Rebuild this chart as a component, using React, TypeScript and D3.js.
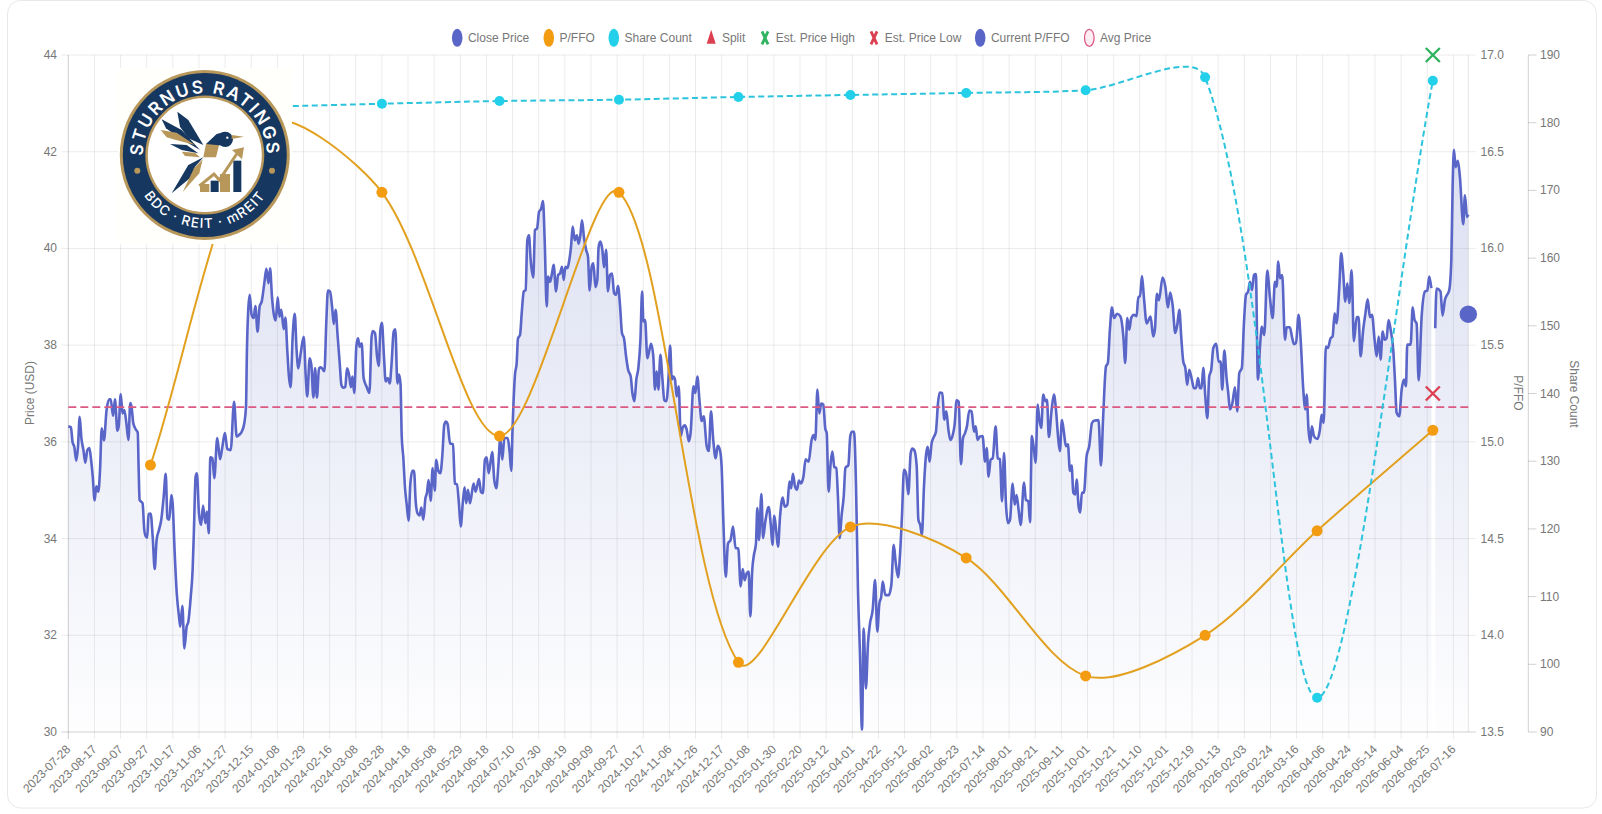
import { path as d3path, area, line, curveMonotoneX, scaleLinear, range } from "d3";

const totalWidth = 1602;
const totalHeight = 814;
const plotLeft = 68.3;
const plotRight = 1468.3;
const plotTop = 55;
const plotBottom = 732;
const font = "'Liberation Sans', Arial, sans-serif";

const tickDates = [
  "2023-07-28", "2023-08-17", "2023-09-07", "2023-09-27", "2023-10-17", "2023-11-06", "2023-11-27", "2023-12-15",
  "2024-01-08", "2024-01-29", "2024-02-16", "2024-03-08", "2024-03-28", "2024-04-18", "2024-05-08", "2024-05-29",
  "2024-06-18", "2024-07-10", "2024-07-30", "2024-08-19", "2024-09-09", "2024-09-27", "2024-10-17", "2024-11-06",
  "2024-11-26", "2024-12-17", "2025-01-08", "2025-01-30", "2025-02-20", "2025-03-12", "2025-04-01", "2025-04-22",
  "2025-05-12", "2025-06-02", "2025-06-23", "2025-07-14", "2025-08-01", "2025-08-21", "2025-09-11", "2025-10-01",
  "2025-10-21", "2025-11-10", "2025-12-01", "2025-12-19", "2026-01-13", "2026-02-03", "2026-02-24", "2026-03-16",
  "2026-04-06", "2026-04-24", "2026-05-14", "2026-06-04", "2026-06-25", "2026-07-16",
];
const tradingDaysPerTick = 14;
const lastIndex = 750;

const priceTicks = [30, 32, 34, 36, 38, 40, 42, 44];
const pffoTicks = [13.5, 14, 14.5, 15, 15.5, 16, 16.5, 17];
const shareTicks = [90, 100, 110, 120, 130, 140, 150, 160, 170, 180, 190];

// [trading day index, close]
const closeBeforeGap: [number, number][] = [
  [0, 36.32], [1.4, 36.3], [2.3, 35.99], [3.2, 35.9], [4.3, 35.61], [5.2, 35.9], [6.1, 36.52], [7, 36.08], [8.1, 35.83], [9.1, 35.57],
  [10.2, 35.83], [11.3, 35.87], [12.2, 35.63], [13.1, 35.28], [14.1, 34.79], [15, 35.08], [16.1, 34.97], [17, 35.42], [17.9, 36.28], [19.1, 36.03],
  [20.5, 36.66], [22, 36.88], [22.7, 36.88], [24, 36.54], [25, 36.88], [26.3, 36.23], [27, 36.32], [28.1, 36.99], [29, 36.59], [30, 36.66],
  [31.1, 36.39], [32.2, 36.04], [33.2, 36.8], [33.9, 36.72], [34.8, 36.39], [36.1, 36.26], [37.2, 36.19], [37.7, 35.42], [38.2, 34.8], [39.8, 34.73],
  [40.7, 34.18], [41.6, 34.04], [42.3, 34.02], [43, 34.51], [44.1, 34.52], [45.2, 34.04], [46.3, 33.37], [47.3, 33.97], [48.6, 34.18], [49.8, 34.39],
  [51.1, 34.87], [52.2, 35.34], [53.1, 34.42], [54.1, 34.39], [55.2, 34.9], [55.9, 34.73], [57, 33.7], [58.1, 32.87], [59.3, 32.39], [60, 32.18],
  [61.1, 32.61], [62.2, 31.73], [63.4, 32.18], [64.3, 32.28], [65.6, 32.8], [66.6, 33.35], [67.3, 34.18], [68.2, 35.28], [68.9, 35.35], [70, 34.52],
  [71.1, 34.28], [72.2, 34.68], [73.4, 34.32], [74.3, 34.56], [75.2, 34.11], [76.1, 35.68], [77.2, 35.66], [78.2, 35.25], [79.8, 36.08], [81.3, 35.64],
  [82.5, 35.89], [83.9, 36.18], [85.2, 35.85], [87, 35.83], [88.8, 36.83], [90.2, 36.11], [91.4, 36.14], [92.9, 36.21], [94.3, 36.39], [95.2, 36.73],
  [95.7, 37.9], [96.4, 38.73], [97.2, 39.04], [98.2, 38.63], [99.3, 38.56], [100.2, 38.81], [101.4, 38.28], [102.5, 38.8], [103.6, 38.9], [105, 39.28],
  [106.1, 39.58], [107.2, 39.28], [108.1, 39.59], [109.1, 39.01], [110, 38.66], [111.1, 38.51], [112.2, 38.99], [113.1, 38.59], [114.1, 38.73], [115.4, 38.33],
  [116.3, 38.57], [117.3, 37.9], [118.2, 37.35], [119.1, 37.13], [120.2, 38.18], [121.3, 38.65], [122.3, 37.9], [123.2, 37.52], [124.5, 37.83], [126.1, 38.17],
  [127.2, 37.35], [128, 36.94], [129.3, 37.73], [130.2, 37.59], [131.3, 36.92], [132.2, 37.52], [133.2, 36.92], [134.3, 37.52], [135.4, 37.54], [137.2, 37.46],
  [138.2, 38.46], [139.1, 39.13], [140.2, 39.11], [141.3, 38.8], [142.2, 38.44], [143.2, 38.73], [144.3, 38.18], [145.4, 37.63], [146.3, 37.18], [147.3, 37.12],
  [148.4, 37.14], [149.3, 37.52], [150.4, 37.39], [151.4, 37.13], [152.2, 37.35], [153.2, 37.01], [154.3, 37.97], [155.2, 38.14], [156.1, 37.97], [157.2, 38.04],
  [158.2, 37.32], [159.8, 37.14], [161.3, 37.01], [162.5, 38.18], [163.2, 38.29], [164.3, 38.25], [165.4, 37.77], [166.3, 37.57], [167.2, 38.32], [168, 38.46],
  [169.1, 37.77], [170, 37.25], [171.1, 37.32], [172.2, 37.21], [173.2, 37.63], [174.3, 38.28], [175.2, 38.33], [176.3, 37.21], [177.2, 37.39], [178, 37.18],
  [178.6, 36.14], [179.5, 35.66], [180.4, 35.04], [181.3, 34.7], [182.3, 34.37], [183.2, 35.11], [184.3, 35.4], [185.2, 35.4], [186.1, 34.77], [187.1, 34.52],
  [188.2, 34.48], [189.1, 34.64], [190.2, 34.39], [191.3, 34.83], [192.1, 34.94], [193, 35.21], [194.1, 34.78], [195.2, 35.46], [196.3, 34.99], [197.1, 35.63],
  [198.2, 35.4], [199.3, 35.35], [200.4, 35.73], [201.4, 36.35], [202.3, 36.42], [203.2, 36.37], [204.5, 35.97], [206.1, 35.95], [207.1, 35.14], [208.2, 35.12],
  [209.3, 34.7], [210.2, 34.25], [211.4, 34.77], [212.3, 35.06], [213.2, 34.73], [214.1, 35.01], [215.2, 34.73], [217.1, 35.14], [218.2, 34.97], [220, 35.23],
  [221.1, 34.96], [222.1, 34.94], [223.2, 35.63], [224.1, 35.68], [225.2, 35.35], [227.1, 35.79], [228.2, 35.21], [229.3, 35.04], [230.4, 35.52], [231.4, 36.08],
  [232.5, 35.63], [233.6, 36.08], [235.4, 36.08], [236.4, 35.8], [237.3, 35.4], [238, 36.28], [239.3, 37.39], [240.2, 37.63], [240.9, 38.14], [242, 38.21],
  [242.9, 38.66], [244, 39.11], [245, 39.14], [245.9, 40.17], [246.8, 40.27], [247.7, 39.76], [249.1, 39.4], [250, 40.38], [251.1, 40.41], [252.2, 40.76],
  [253.3, 40.82], [254.3, 40.98], [255.2, 40.17], [256.3, 38.8], [257, 39.42], [258.1, 39.31], [259.1, 39.48], [260, 39.66], [261.3, 39.11], [262.4, 39.45],
  [263.4, 39.48], [264.5, 39.62], [265.4, 39.35], [266.3, 39.62], [267.4, 39.59], [268.4, 39.76], [269.3, 40.03], [270.2, 40.45], [271.3, 40.17], [272.4, 40.27],
  [273.4, 40.1], [274.3, 40.27], [275.2, 40.58], [276.3, 40.21], [277.4, 39.97], [278.4, 39.83], [279.3, 39.13], [280.4, 39.62], [281.3, 39.69], [282.4, 39.2],
  [283.4, 39.35], [284.1, 40.03], [285, 40.14], [286.1, 39.97], [287, 39.61], [288.1, 39.97], [289.1, 39.11], [290.2, 39.45], [291.3, 39.48], [292.4, 39.07],
  [293.4, 39.04], [294.5, 39.22], [295.6, 38.8], [296.6, 38.25], [297.7, 38.14], [298.8, 37.77], [299.9, 37.49], [301.3, 37.35], [302.2, 37.01], [303.3, 36.84],
  [304.3, 37.29], [305.4, 37.53], [306.5, 38.11], [307.4, 39.11], [308.1, 38.49], [309, 38.52], [310.2, 37.73], [311.3, 37.9], [312.2, 38.03], [313.4, 37.77],
  [314.3, 37.08], [315.2, 37.46], [316.1, 37.08], [317.2, 37.8], [318.3, 37.29], [319.3, 36.86], [320.4, 36.84], [321.5, 37.29], [322.4, 37.99], [323.3, 37.29],
  [324.1, 37.35], [325, 37.29], [325.9, 36.94], [327, 37.15], [328.1, 36.12], [329.1, 36.29], [330.2, 36.34], [331.3, 36.25], [332.4, 36.01], [333.4, 36.19],
  [334.9, 37.15], [335.9, 37.01], [337, 37.35], [338.1, 36.87], [339.3, 36.43], [340.4, 36.53], [342, 35.91], [343.1, 35.81], [344.3, 36.63], [345.5, 36.04],
  [346.8, 35.66], [347.9, 35.92], [349.1, 35.83], [350, 35.49], [350.9, 34.39], [352.2, 33.21], [353.4, 33.9], [354.8, 33.97], [356.1, 34.25], [357.5, 33.8],
  [358.9, 33.8], [360.2, 33.01], [361.3, 33.37], [362.3, 33.14], [363.4, 33.28], [364.5, 33.32], [365.4, 32.39], [366.4, 33.35], [367.3, 33.66], [368.4, 33.9],
  [369.1, 34.63], [370, 33.97], [371.3, 34.92], [372.2, 34.01], [373.4, 34.35], [375.2, 34.65], [376.4, 34.25], [377.2, 33.87], [378.2, 34.47], [379.1, 34.21],
  [380.2, 33.83], [381.3, 34.46], [382.7, 34.85], [383.8, 34.66], [385.2, 34.7], [386.3, 35.18], [387.2, 35.04], [388.2, 35.34], [389.3, 35.08], [390.4, 35.01],
  [391.4, 35.2], [392.5, 35.14], [393.8, 35.28], [395, 35.64], [396.6, 35.59], [398.2, 36.04], [399.3, 36.14], [400.2, 36.04], [401.3, 37.08], [402.3, 36.59],
  [403.4, 36.79], [404.5, 36.77], [405.5, 36.28], [406.3, 36.18], [407.3, 34.97], [408.4, 35.56], [409.3, 35.8], [410.4, 35.48], [411.4, 35.46], [412.3, 34.87],
  [413.2, 34.01], [414.3, 34.49], [415.4, 34.87], [416.3, 35.46], [417.9, 35.52], [418.9, 36.11], [419.8, 36.21], [420.9, 36.21], [422, 35.08], [423, 33.01],
  [424.1, 31.63], [425.2, 30.05], [426.1, 32.14], [427.3, 30.9], [428.4, 31.83], [429.5, 32.25], [430.9, 32.52], [432.2, 33.14], [433.4, 32.08], [434.5, 32.66],
  [435.5, 32.8], [436.3, 33.11], [437.7, 32.83], [439.5, 32.83], [440.9, 33.04], [442.2, 33.87], [443.2, 33.52], [444.5, 33.2], [445.5, 33.63], [446.6, 34.46],
  [447.7, 35.42], [448.8, 35.35], [450, 34.92], [451.3, 35.77], [452.2, 35.86], [453.2, 35.83], [454.5, 35.49], [455.4, 34.39], [456.4, 34.28], [457.3, 34.08],
  [458.4, 35.08], [459.5, 35.73], [460.4, 35.9], [461.4, 35.59], [462.5, 35.97], [463.8, 36.11], [464.8, 36.21], [465.9, 36.8], [466.8, 37.02], [468.2, 37.01],
  [469.3, 36.46], [470.4, 36.63], [471.4, 36.28], [472.5, 36.04], [473.8, 36.14], [474.8, 36.35], [475.9, 36.86], [477, 36.83], [478.2, 35.54], [479.3, 36.08],
  [480.4, 36.18], [481.4, 36.32], [482.7, 36.65], [483.9, 36.63], [485.2, 36.21], [486.1, 36.32], [487.1, 36.04], [488.4, 36.11], [489.8, 36.12], [491.1, 35.59],
  [492, 35.87], [493, 35.28], [494.1, 35.63], [495.2, 35.66], [496.8, 36.32], [497.9, 35.66], [499.1, 35.64], [500.2, 34.77], [501.3, 35.77], [502.3, 34.73],
  [503.4, 34.32], [504.5, 34.39], [505.9, 35.14], [507, 34.7], [508, 34.9], [509.1, 34.59], [510.2, 34.28], [512, 35.16], [513, 34.8], [514.3, 34.77],
  [515.2, 34.34], [516.2, 36.12], [517.3, 35.84], [518.2, 35.57], [519.3, 36.77], [520.2, 36.46], [521.2, 36.29], [522.3, 36.98], [523.4, 36.84], [524.3, 36.87],
  [525.3, 36.1], [526.8, 36.67], [528, 36.98], [529.1, 36.67], [530.2, 36.12], [531.2, 35.81], [532.3, 36.45], [533.4, 36.19], [534.4, 35.91], [535.5, 35.95],
  [536.6, 35.4], [537.5, 35.51], [538.4, 34.95], [539.4, 34.91], [540.2, 35.22], [541.2, 34.67], [542.1, 34.54], [543, 34.95], [544.1, 34.95], [545.5, 35.7],
  [546.9, 35.91], [548.4, 36.39], [549.8, 36.44], [551.9, 36.45], [553.2, 35.51], [554.4, 36.53], [555.9, 37.56], [556.9, 37.63], [558, 38.32], [559.1, 38.78],
  [560.2, 38.56], [561.9, 38.65], [563.7, 38.59], [565.2, 38.18], [566.2, 37.63], [567.3, 38.56], [568.4, 38.32], [569.4, 38.56], [570.9, 38.63], [572.3, 38.6],
  [573.2, 39], [574.1, 39], [575.2, 39.43], [576.2, 39], [577.7, 38.45], [579.8, 38.59], [581.2, 38.18], [582.1, 38.32], [583.2, 39.06], [584.3, 38.93],
  [586.2, 39.4], [587.7, 39.21], [589.1, 38.78], [590.3, 39.09], [591.6, 38.83], [593, 38.25], [594.1, 38.42], [595.2, 38.73], [596.2, 38.18], [597.3, 37.66],
  [598.4, 37.53], [599.4, 37.18], [600.5, 37.49], [601.9, 37.29], [603, 37.11], [604.1, 37.11], [605.2, 37.32], [606.2, 37.11], [607.1, 37.11], [608, 37.53],
  [609.1, 36.94], [610.2, 36.49], [611.2, 37.35], [612.3, 37.49], [613.4, 37.94], [615, 38.03], [616.2, 37.66], [617.3, 37.66], [618.2, 37.08], [619.3, 37.89],
  [620.5, 37.32], [621.4, 37.01], [622.3, 36.67], [623.6, 36.8], [625, 37.13], [626.2, 36.63], [627.3, 37.42], [628.7, 37.53], [629.8, 38.45], [630.9, 39.04],
  [632.1, 39.11], [633, 39.31], [634.1, 39.14], [635.2, 39.45], [636.2, 39.47], [637.3, 37.29], [638.4, 37.97], [639.4, 38.38], [640.7, 38.21], [642.3, 39.54],
  [643.7, 39], [645.2, 38.56], [646.4, 39.31], [647.3, 39.21], [648.2, 39.73], [649.1, 39.38], [650.3, 39.45], [651.8, 38.11], [652.7, 38.37], [654.4, 38.37],
  [655.5, 38.18], [656.6, 38.02], [657.7, 38.05], [659.1, 38.63], [660.2, 38.11], [661.6, 37.08], [662.7, 36.67], [663.4, 36.98], [664.4, 36.25], [665.3, 35.98],
  [666.2, 36.32], [667.3, 36.12], [669.1, 36.06], [670.5, 36.25], [671.4, 36.56], [672.5, 36.39], [673.7, 37.97], [674.8, 37.94], [676.2, 38.14], [677.3, 38.18],
  [678.4, 38.66], [679.4, 38.45], [680.9, 39.21], [681.9, 39.9], [683, 39.48], [684.1, 38.9], [685.2, 39.28], [686.2, 38.87], [687.5, 39.55], [688.7, 38.08],
  [690.2, 38.58], [691.2, 38.58], [692.3, 37.77], [693.7, 38.32], [694.8, 38.63], [696.1, 38.95], [697.3, 38.58], [698.4, 38.63], [699.8, 38.11], [700.9, 37.77],
  [702, 38.18], [703, 37.7], [704.1, 38.28], [705.2, 38.11], [706.2, 38.14], [707.3, 38.52], [708.4, 38.32], [709.8, 37.9], [710.7, 37.29], [711.6, 36.6],
  [713, 36.53], [714.3, 37.08], [715.5, 37.29], [716.6, 37.15], [717.3, 38.01], [719.1, 38.01], [720.2, 38.78], [721.2, 38.52], [722.3, 38.45], [723.4, 37.27],
  [725, 38.59], [726.8, 39.11], [728, 39.13], [729.1, 39.42], [730.2, 39.18],
];
const closeAfterGap: [number, number][] = [
  [732.3, 38.35], [733, 39.17], [735.1, 39.11], [736.2, 38.61], [737.5, 38.94], [739.8, 39.14], [740.9, 39.76], [741.6, 41.27],
  [742.3, 42.04], [743.2, 41.68], [744.4, 41.81], [745.5, 41.48], [747.3, 40.5], [748.2, 41.1], [749.3, 40.65], [750, 40.7],
];

// quarterly points, the second one sits behind the logo
const pffoIndex = [44, 106, 168, 231, 295, 359, 419, 481, 545, 609, 669, 731];
const pffoValues = [14.88, 16.64, 16.29, 15.03, 16.29, 13.86, 14.56, 14.4, 13.79, 14.0, 14.54, 15.06];
const shareValues = [181.9, 182.35, 182.8, 183.2, 183.4, 183.8, 184.1, 184.4, 184.8, 186.7, 95.05, 186.2];

const avgPrice = 36.72;
const estPriceHigh = 44;
const estPriceLow = 37;
const estIndex = 731;
const currentPffo = 15.66;

const legendLabels = ["Close Price", "P/FFO", "Share Count", "Split", "Est. Price High", "Est. Price Low", "Current P/FFO", "Avg Price"];
const legendMarkers = ["blue", "orange", "cyan", "triangle", "xgreen", "xred", "blue", "avg"];
const legendX = [457.2, 548.8, 613.8, 711.2, 765, 874, 980.2, 1089.3];

const blue = "#5a65c8";
const orangeLine = "#e2a01f";
const orange = "#f39c12";
const cyan = "#22d0ea";
const cyanLine = "#2cc4dc";
const green = "#2fb35f";
const red = "#dc3f50";
const avgColor = "#dc5a82";
const navy = "#16375f";
const gold = "#b8975a";

// same bezier control points Chart.js makes, tension
function splinePath(points: [number, number][]) {
  const t = 0.3;
  const p = d3path();
  const ctrl = points.map((cur, i) => {
    const prev = points[Math.max(i - 1, 0)];
    const next = points[Math.min(i + 1, points.length - 1)];
    const d01 = Math.hypot(cur[0] - prev[0], cur[1] - prev[1]);
    const d12 = Math.hypot(next[0] - cur[0], next[1] - cur[1]);
    const total = d01 + d12 || 1;
    const fa = (t * d01) / total;
    const fb = (t * d12) / total;
    return {
      before: [cur[0] - fa * (next[0] - prev[0]), cur[1] - fa * (next[1] - prev[1])],
      after: [cur[0] + fb * (next[0] - prev[0]), cur[1] + fb * (next[1] - prev[1])],
    };
  });
  points.forEach((pt, i) => {
    if (i === 0) {
      p.moveTo(pt[0], pt[1]);
    } else {
      p.bezierCurveTo(ctrl[i - 1].after[0], ctrl[i - 1].after[1], ctrl[i].before[0], ctrl[i].before[1], pt[0], pt[1]);
    }
  });
  return p.toString();
}

const Cross = ({ x, y, rx, ry, color, w }: { x: number; y: number; rx: number; ry: number; color: string; w: number }) => (
  <path d={`M${x - rx},${y - ry}L${x + rx},${y + ry}M${x - rx},${y + ry}L${x + rx},${y - ry}`} stroke={color} strokeWidth={w} fill="none" />
);

const Logo = () => {
  const cx = 204.8;
  const cy = 155;
  const topR = 62;
  const botR = 73;
  const a = (12 * Math.PI) / 180;
  const topDx = topR * Math.cos(a);
  const topDy = topR * Math.sin(a);
  const botDx = botR * Math.cos(a);
  const botDy = botR * Math.sin(a);
  return (
    <g>
      <rect x={118} y={68} width={174} height={176} fill="#fffffc" />
      <circle cx={cx} cy={cy} r={85} fill={gold} />
      <circle cx={cx} cy={cy} r={82} fill={navy} />
      <circle cx={cx} cy={cy} r={59.5} fill={gold} />
      <circle cx={cx} cy={cy} r={57} fill="#ffffff" />
      <circle cx={137.3} cy={170.7} r={3} fill={gold} />
      <circle cx={272} cy={170.7} r={3} fill={gold} />
      <defs>
        <path id="logoTop" d={`M${cx - topDx},${cy + topDy} A${topR},${topR} 0 1 1 ${cx + topDx},${cy + topDy}`} />
        <path id="logoBottom" d={`M${cx - botDx},${cy - botDy} A${botR},${botR} 0 1 0 ${cx + botDx},${cy - botDy}`} />
      </defs>
      <text fill="#ffffff" fontFamily="Inter, sans-serif" fontSize={17.5} fontWeight={600} letterSpacing={2}>
        <textPath href="#logoTop" startOffset="50%" textAnchor="middle">STURNUS RATINGS</textPath>
      </text>
      <text fill="#ffffff" fontFamily="Inter, sans-serif" fontSize={13.5} fontWeight={500} letterSpacing={1.2}>
        <textPath href="#logoBottom" startOffset="50%" textAnchor="middle">BDC · REIT · mREIT</textPath>
      </text>
      <g transform="translate(120,70) scale(0.3333)">
        <polygon points="172,125 205,150 250,225 205,205 180,170" fill={navy} />
        <polygon points="125,148 185,180 240,240 180,205 138,175" fill={navy} />
        <polygon points="122,180 170,188 225,225 168,210 140,202" fill={gold} />
        <polygon points="150,222 200,225 235,250 185,240" fill={navy} />
        <polygon points="185,245 225,248 240,262 195,258" fill={gold} />
        <polygon points="258,222 298,222 288,262 250,262" fill={gold} />
        <circle cx={316} cy={208} r={23} fill={navy} />
        <polygon points="258,222 290,192 316,185 316,228 298,226" fill={navy} />
        <polygon points="335,195 372,200 335,207" fill={gold} />
        <polygon points="155,370 205,285 250,262 225,290 215,320" fill={navy} />
        <polygon points="188,366 222,295 248,268 238,310" fill={gold} />
        <rect x={340} y={272} width={24} height={94} fill={navy} />
        <rect x={300} y={312} width={30} height={54} fill={gold} />
        <rect x={272} y={332} width={24} height={34} fill={navy} />
        <rect x={240} y={342} width={28} height={24} fill={gold} />
        <polyline points="238,348 282,312 298,330 350,252" fill="none" stroke={gold} strokeWidth={9} />
        <polygon points="336,240 372,232 366,268" fill={gold} />
        <circle cx={322} cy={203} r={3.5} fill="#ffffff" />
      </g>
    </g>
  );
};

export default function App() {
  const x = scaleLinear().domain([0, lastIndex]).range([plotLeft, plotRight]);
  const yPrice = scaleLinear().domain([30, 44]).range([plotBottom, plotTop]);
  const yPffo = scaleLinear().domain([13.5, 17]).range([plotBottom, plotTop]);
  const yShare = scaleLinear().domain([90, 190]).range([plotBottom, plotTop]);

  const priceLine = line<[number, number]>()
    .x((d) => x(d[0]))
    .y((d) => yPrice(d[1]))
    .curve(curveMonotoneX);
  const priceArea = area<[number, number]>()
    .x((d) => x(d[0]))
    .y0(plotBottom)
    .y1((d) => yPrice(d[1]))
    .curve(curveMonotoneX);

  const pffoPoints = pffoIndex.map((d, i) => [x(d), yPffo(pffoValues[i])] as [number, number]);
  const sharePoints = pffoIndex.map((d, i) => [x(d), yShare(shareValues[i])] as [number, number]);
  const tickIdx = range(tickDates.length).map((i) => i * tradingDaysPerTick);
  const textColor = "#777";

  return (
    <svg
      viewBox={`0 0 ${totalWidth} ${totalHeight}`}
      width={totalWidth}
      height={totalHeight}
      style={{ position: "absolute", left: 0, top: 0, display: "block" }}
    >
      <defs>
        <linearGradient id="closeFill" gradientUnits="userSpaceOnUse" x1={0} x2={0} y1={plotTop} y2={plotBottom}>
          <stop offset="0%" stopColor="#5c6bc0" stopOpacity={0.25} />
          <stop offset="100%" stopColor="#5c6bc0" stopOpacity={0.01} />
        </linearGradient>
      </defs>
      <rect width={totalWidth} height={totalHeight} fill="#ffffff" />
      <rect x={7.5} y={0.5} width={1589} height={807.5} rx={13} fill="#ffffff" stroke="#e8e8e8" />

      {/* legend */}
      <g fontFamily={font} fontSize={12} fill={textColor}>
        {legendLabels.map((label, i) => {
          const cx = legendX[i];
          const cy = 37.8;
          const kind = legendMarkers[i];
          return (
            <g key={label}>
              {kind === "blue" && <ellipse cx={cx} cy={cy} rx={5.3} ry={9} fill={blue} />}
              {kind === "orange" && <ellipse cx={cx} cy={cy} rx={5.3} ry={9} fill={orange} />}
              {kind === "cyan" && <ellipse cx={cx} cy={cy} rx={5.3} ry={9} fill={cyan} />}
              {kind === "avg" && <ellipse cx={cx} cy={cy} rx={4.8} ry={8.5} fill="#fdecf1" stroke={avgColor} strokeWidth={1.3} />}
              {kind === "triangle" && <path d={`M${cx},${cy - 8}L${cx + 4.5},${cy + 6}L${cx - 4.5},${cy + 6}Z`} fill={red} />}
              {kind === "xgreen" && <Cross x={cx} y={cy} rx={3} ry={6.5} color={green} w={2.8} />}
              {kind === "xred" && <Cross x={cx} y={cy} rx={3} ry={6.5} color={red} w={2.8} />}
              <text x={cx + 10.7} y={cy + 4}>{label}</text>
            </g>
          );
        })}
      </g>

      {/* grid */}
      {priceTicks.map((t) => (
        <line key={t} x1={plotLeft - 7} x2={plotRight + 7.5} y1={yPrice(t)} y2={yPrice(t)} stroke="#000" strokeOpacity={t === 30 ? 0.18 : 0.08} />
      ))}
      {tickIdx.map((t) => (
        <line key={t} x1={x(t)} x2={x(t)} y1={plotTop} y2={plotBottom + 7} stroke="#000" strokeOpacity={t === 0 ? 0.2 : 0.08} />
      ))}
      <line x1={plotRight} x2={plotRight} y1={plotTop} y2={plotBottom} stroke="#000" strokeOpacity={0.1} />

      {/* share axis */}
      <line x1={1528.3} x2={1528.3} y1={plotTop} y2={plotBottom} stroke="#000" strokeOpacity={0.18} />
      {shareTicks.map((t) => (
        <line key={t} x1={1528.3} x2={1536.5} y1={yShare(t)} y2={yShare(t)} stroke="#000" strokeOpacity={0.18} />
      ))}

      <path d={priceArea(closeBeforeGap) ?? ""} fill="url(#closeFill)" />
      <path d={priceArea(closeAfterGap) ?? ""} fill="url(#closeFill)" />
      <path d={priceLine(closeBeforeGap) ?? ""} fill="none" stroke={blue} strokeWidth={2.6} strokeLinejoin="round" />
      <path d={priceLine(closeAfterGap) ?? ""} fill="none" stroke={blue} strokeWidth={2.6} strokeLinejoin="round" />

      <line x1={plotLeft} x2={plotRight} y1={yPrice(avgPrice)} y2={yPrice(avgPrice)} stroke={avgColor} strokeWidth={1.8} strokeDasharray="8 4" />

      <path d={splinePath(pffoPoints)} fill="none" stroke={orangeLine} strokeWidth={2} />
      <path d={splinePath(sharePoints)} fill="none" stroke={cyanLine} strokeWidth={2} strokeDasharray="6 3.5" />
      {pffoPoints.map((d) => (
        <circle key={d[0]} cx={d[0]} cy={d[1]} r={5.5} fill={orange} />
      ))}
      {sharePoints.map((d) => (
        <circle key={d[0]} cx={d[0]} cy={d[1]} r={5} fill={cyan} />
      ))}
      <Cross x={x(estIndex)} y={yPrice(estPriceHigh)} rx={7} ry={7} color={green} w={2.4} />
      <Cross x={x(estIndex)} y={yPrice(estPriceLow)} rx={7} ry={7} color={red} w={2.4} />
      <circle cx={x(lastIndex)} cy={yPffo(currentPffo)} r={8.7} fill={blue} />

      {/* tick labels */}
      <g fontFamily={font} fontSize={12} fill={textColor}>
        {priceTicks.map((t) => (
          <text key={t} x={57} y={yPrice(t) + 4} textAnchor="end">{t}</text>
        ))}
        {pffoTicks.map((t) => (
          <text key={t} x={1480.5} y={yPffo(t) + 4}>{t.toFixed(1)}</text>
        ))}
        {shareTicks.map((t) => (
          <text key={t} x={1540} y={yShare(t) + 4}>{t}</text>
        ))}
        {tickDates.map((d, i) => (
          <text key={d} transform={`translate(${x(tickIdx[i]) + 3},${plotBottom + 18}) rotate(-45)`} textAnchor="end">{d}</text>
        ))}
        <text transform="translate(34,393) rotate(-90)" textAnchor="middle">Price (USD)</text>
        <text transform="translate(1514,393) rotate(90)" textAnchor="middle">P/FFO</text>
        <text transform="translate(1570,394) rotate(90)" textAnchor="middle">Share Count</text>
      </g>

      <Logo />
    </svg>
  );
}
